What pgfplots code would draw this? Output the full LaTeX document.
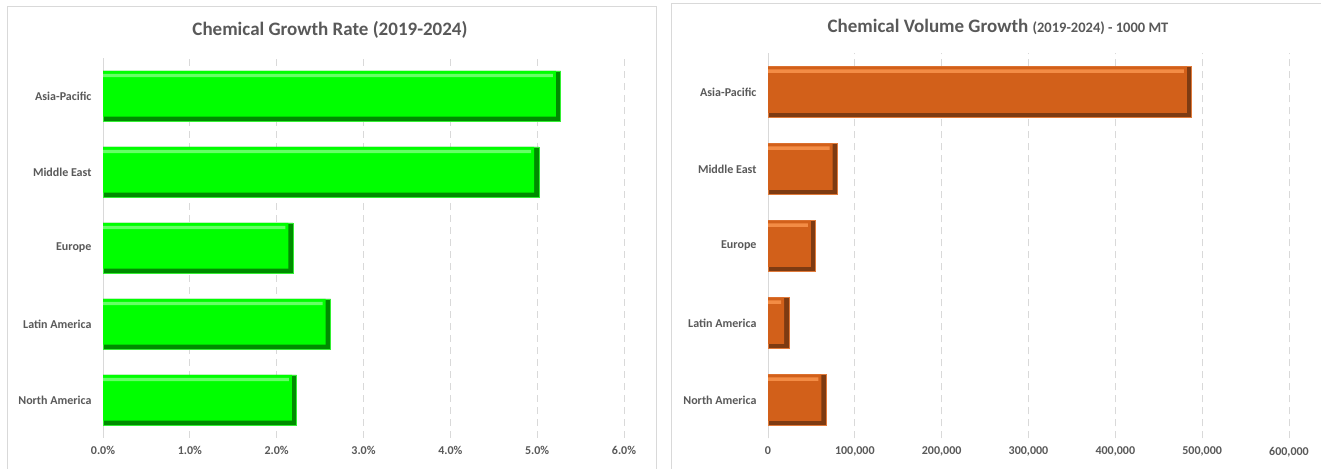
\documentclass[border=0pt]{standalone}
\usepackage{fontspec}
\setmainfont{Carlito}
\usepackage{pgfplots}
\pgfplotsset{compat=1.18}
\usepackage{pgfplotstable}

\definecolor{txt}{HTML}{595959}
\definecolor{gridc}{HTML}{D9D9D9}
\definecolor{framec}{HTML}{D9D9D9}
\definecolor{gmain}{HTML}{00FF00}
\definecolor{gdark}{HTML}{008C00}
\definecolor{glight}{HTML}{66FF66}
\definecolor{gline}{HTML}{33EE33}
\definecolor{omain}{HTML}{D2601A}
\definecolor{odark}{HTML}{7E3B12}
\definecolor{olight}{HTML}{F38C45}
\definecolor{oline}{HTML}{E07A3A}

\pgfplotstableread{
pos rate
4 5.27
3 5.02
2 2.19
1 2.62
0 2.23
}\ratedata

\pgfplotstableread{
pos vol
4 488000
3 80000
2 55000
1 24000
0 67000
}\voldata

\pgfplotsset{
  mybars/.style={
    scale only axis, width=521pt,
    ymin=-0.5, ymax=4.5, xmin=0,
    axis lines*=left,
    x axis line style={draw=none},
    y axis line style={draw=gridc, line width=1pt},
    xmajorgrids,
    major grid style={draw=gridc, line width=0.9pt, dash pattern=on 7pt off 5pt},
    ytick={0,1,2,3,4},
    yticklabels={North America, Latin America, Europe, Middle East, Asia-Pacific},
    tick style={draw=none},
    major tick length=0pt,
    ticklabel style={text=txt, font=\bfseries\fontsize{12}{14}\selectfont},
    xticklabel style={yshift=-5pt},
    yticklabel style={xshift=-8pt},
    scaled x ticks=false,
  }
}

\begin{document}
\begin{tikzpicture}[x=1pt,y=1pt]
\useasboundingbox (0,0) rectangle (1321,468);
\begin{scope}
\clip (0,0) rectangle (1321,468);
\fill[white] (0,0) rectangle (1321,468);
\draw[framec, line width=1pt] (7,461) rectangle (656,-10);
\draw[framec, line width=1pt] (671,464) rectangle (1340,-10);

\node[text=txt, font=\bfseries\fontsize{19}{22}\selectfont] at (330,438) {Chemical Growth Rate (2019-2024)};
\node[text=txt, font=\bfseries] at (998,441) {\fontsize{19}{22}\selectfont Chemical Volume Growth \fontsize{14.5}{22}\selectfont(2019-2024) - 1000 MT};

\begin{axis}[mybars,
  at={(103pt,30pt)}, anchor=south west,
  height=380pt,
  xmax=6,
  xtick={0,1,2,3,4,5,6},
  xticklabels={0.0\%,1.0\%,2.0\%,3.0\%,4.0\%,5.0\%,6.0\%},
]
\addplot[xbar, bar width=0.66, bar shift=0, fill=gdark, draw=gline, line width=0.6pt] table[x=rate,y=pos]{\ratedata};
\addplot[xbar, bar width=0.60, bar shift=0.03, fill=gmain, draw=none] table[x expr=\thisrow{rate}-0.055,y=pos]{\ratedata};
\addplot[xbar, bar width=0.045, bar shift=0.27, fill=glight, draw=none] table[x expr=\thisrow{rate}-0.09,y=pos]{\ratedata};
\end{axis}

\begin{axis}[mybars,
  at={(768pt,29.5pt)}, anchor=south west,
  height=385pt,
  xmax=600000,
  xtick={0,100000,200000,300000,400000,500000,600000},
  xticklabels={0,{100,000},{200,000},{300,000},{400,000},{500,000},{600,000}},
]
\addplot[xbar, bar width=0.66, bar shift=0, fill=odark, draw=oline, line width=0.6pt] table[x=vol,y=pos]{\voldata};
\addplot[xbar, bar width=0.60, bar shift=0.03, fill=omain, draw=none] table[x expr=\thisrow{vol}-5500,y=pos]{\voldata};
\addplot[xbar, bar width=0.045, bar shift=0.27, fill=olight, draw=none] table[x expr=\thisrow{vol}-9000,y=pos]{\voldata};
\end{axis}
\end{scope}
\end{tikzpicture}
\end{document}
